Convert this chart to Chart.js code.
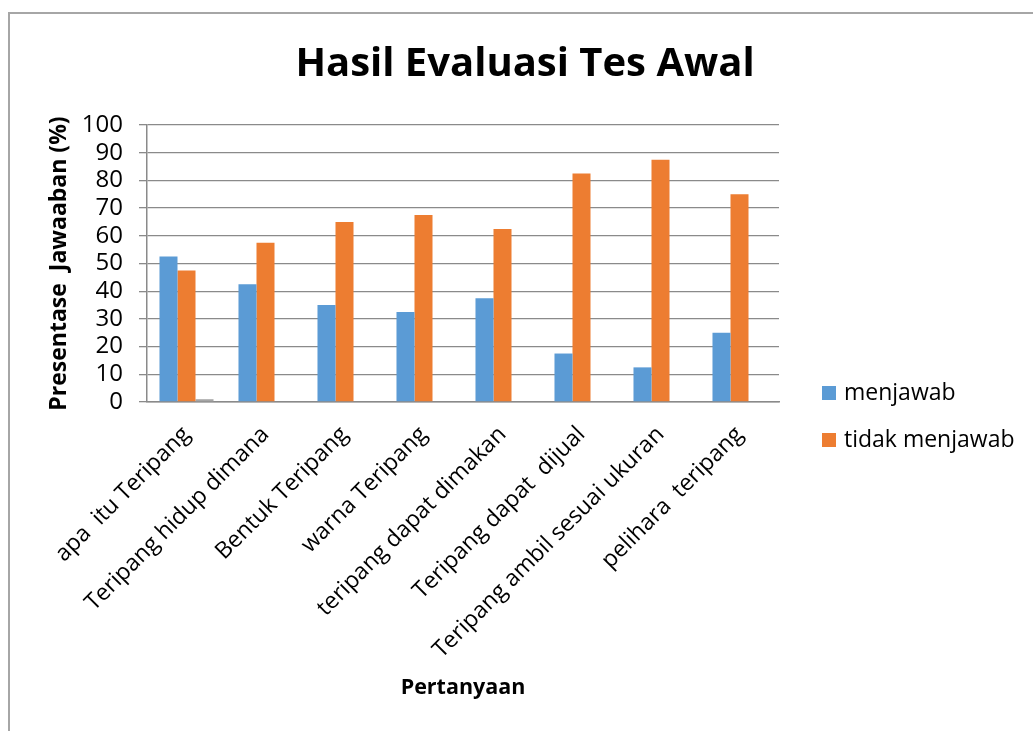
<!DOCTYPE html>
<html>
<head>
<meta charset="utf-8">
<script src="https://cdn.jsdelivr.net/npm/chart.js@4.4.0/dist/chart.umd.min.js"></script>
<style>
    html, body { margin: 0; padding: 0; background: #fff; overflow: hidden; }
    #wrap { position: relative; width: 1033px; height: 731px; }
    #frame { position: absolute; left: 8px; top: 12px; width: 1100px; height: 800px; border: 2px solid #a6a6a6; box-sizing: border-box; }
    #chart { position: absolute; left: 0; top: 0; }
</style>
</head>
<body>
<div id="wrap">
    <div id="frame"></div>
    <canvas id="chart" width="1033" height="731"></canvas>
</div>
<script>
const categories = [
    "apa  itu Teripang",
    "Teripang hidup dimana",
    "Bentuk Teripang",
    "warna Teripang",
    "teripang dapat dimakan",
    "Teripang dapat  dijual",
    "Teripang ambil sesuai ukuran",
    "pelihara  teripang"
];
const menjawab = [52.5, 42.5, 35, 32.5, 37.5, 17.5, 12.5, 25];
const tidakMenjawab = [47.5, 57.5, 65, 67.5, 62.5, 82.5, 87.5, 75];
const lainnya = [1, 0, 0, 0, 0, 0, 0, 0];
const yTicks = [0, 10, 20, 30, 40, 50, 60, 70, 80, 90, 100];

const FONT = "'Open Sans', sans-serif";
const GRID = '#8a8a8a';

// legend drawn by hand so it can sit low on the right like the original
const sideLegend = {
    id: 'sideLegend',
    afterDraw(chart, args, opts) {
        const ctx = chart.ctx;
        ctx.save();
        ctx.font = opts.size + 'px ' + FONT;
        ctx.textBaseline = 'middle';
        ctx.textAlign = 'left';
        opts.items.forEach((idx, n) => {
            const ds = chart.data.datasets[idx];
            const y = opts.y + n * opts.step;
            ctx.fillStyle = ds.backgroundColor;
            ctx.fillRect(opts.x, y - opts.box / 2, opts.box, opts.box);
            ctx.fillStyle = '#000';
            ctx.fillText(ds.label, opts.x + opts.box + 8, y);
        });
        ctx.restore();
    }
};

Chart.defaults.font.family = FONT;
Chart.defaults.color = '#000';

new Chart(document.getElementById('chart'), {
    type: 'bar',
    data: {
        labels: categories,
        datasets: [
            { label: 'menjawab', data: menjawab, backgroundColor: '#5b9bd5' },
            { label: 'tidak menjawab', data: tidakMenjawab, backgroundColor: '#ed7d31' },
            { label: '', data: lainnya, backgroundColor: '#a5a5a5' }
        ]
    },
    options: {
        responsive: false,
        animation: false,
        layout: { padding: { left: 17, top: 0, right: 0, bottom: 0 } },
        datasets: {
            bar: { categoryPercentage: 0.684, barPercentage: 1.0 }
        },
        plugins: {
            legend: { display: false },
            tooltip: { enabled: false },
            title: {
                display: true,
                text: 'Hasil Evaluasi Tes Awal',
                color: '#000',
                font: { size: 40, weight: 'bold' },
                padding: { top: 41, bottom: 36 }
            },
            sideLegend: { x: 822, y: 393, step: 47, box: 14, size: 23, items: [0, 1] }
        },
        scales: {
            x: {
                grid: { display: false, drawTicks: false },
                border: { display: true, color: GRID, width: 1.5 },
                ticks: { font: { size: 23 }, minRotation: 45, maxRotation: 45, autoSkip: false, padding: 19 },
                title: {
                    display: true,
                    text: 'Pertanyaan',
                    font: { size: 21.5, weight: 'bold' },
                    padding: { top: 0, bottom: 30 }
                },
                afterFit: s => { s.height = 329; }
            },
            y: {
                min: 0,
                max: 100,
                afterBuildTicks: s => { s.ticks = yTicks.map(v => ({ value: v })); },
                grid: { color: GRID, lineWidth: 1.3, tickLength: 8 },
                border: { display: true, color: GRID, width: 1.5 },
                ticks: { font: { size: 24 }, padding: 16, autoSkip: false },
                title: {
                    display: true,
                    text: 'Presentase  Jawaaban (%)',
                    font: { size: 23, weight: 'bold' },
                    padding: { top: 29, bottom: 0 }
                },
                afterFit: s => { s.width = 130; }
            },
            // empty box on the right that keeps room for the legend
            side: {
                position: 'right',
                grid: { display: false },
                ticks: { display: false },
                border: { display: false },
                afterFit: s => { s.width = 254; }
            }
        }
    },
    plugins: [sideLegend]
});
</script>
</body>
</html>
